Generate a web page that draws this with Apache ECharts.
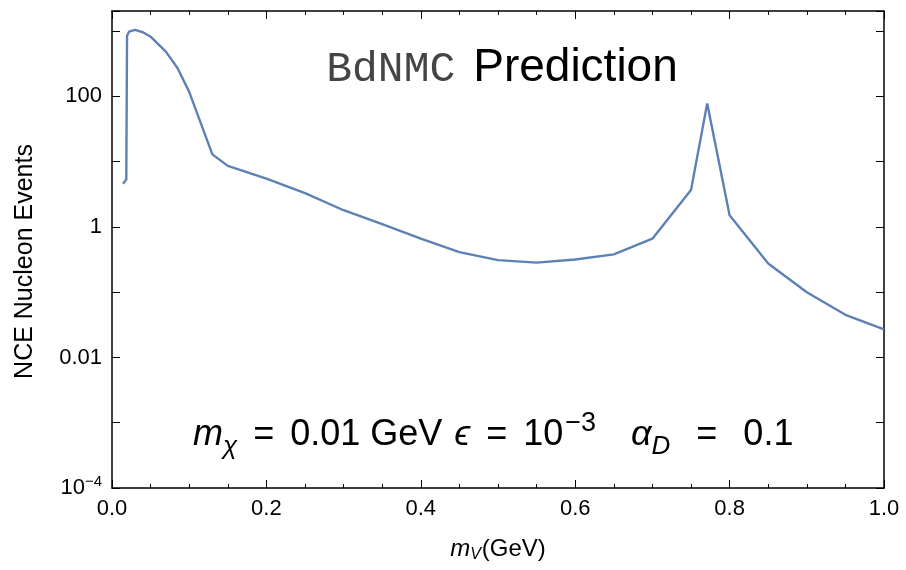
<!DOCTYPE html>
<html>
<head>
<meta charset="utf-8">
<script src="https://cdn.jsdelivr.net/npm/echarts@6/dist/echarts.min.js"></script>
<style>html,body{margin:0;padding:0;background:#fff}#c{width:906px;height:570px}</style>
</head>
<body>
<div id="c"></div>
<script>
const massGeV = [0.0143, 0.0185, 0.0195, 0.022, 0.03, 0.04, 0.05, 0.07, 0.085, 0.1, 0.13, 0.15, 0.2, 0.25, 0.3, 0.35, 0.4, 0.45, 0.5, 0.55, 0.6, 0.65, 0.7, 0.75, 0.771, 0.8, 0.85, 0.9, 0.95, 1.0];
const nceEvents = [4.6, 5.3, 850, 980, 1040, 960, 820, 480, 270, 117, 12.9, 8.6, 5.5, 3.3, 1.8, 1.1, 0.66, 0.41, 0.31, 0.284, 0.316, 0.38, 0.66, 3.66, 78, 1.51, 0.275, 0.1, 0.045, 0.027];
const xTickLabels = ['0.0', '0.2', '0.4', '0.6', '0.8', '1.0'];
const yTickLabels = {'2': '100', '0': '1', '-2': '0.01', '-4': '10{sup|−4}'};

const chart = echarts.init(document.getElementById('c'));
const sans = 'Liberation Sans, Arial, sans-serif';
const GRID = {left: 112, right: 22, top: 11, bottom: 82};
const gridW = 906 - GRID.left - GRID.right;
const gridH = 570 - GRID.top - GRID.bottom;
const blackLine = {show: true, onZero: false, lineStyle: {color: '#000', width: 1.5}};
const noLine = {show: false, onZero: false};
const tickStyle = {show: true, length: 8, lineStyle: {color: '#000', width: 1}};
const minorX = {show: true, splitNumber: 4, length: 4, lineStyle: {color: '#000', width: 1}};
const yMin = 1e-4, yMax = 2030;

const yLabelFmt = function (v) {
  const e = Math.log10(v);
  const r = Math.round(e);
  if (Math.abs(e - r) > 1e-6) return '';
  return yTickLabels[String(r)] || '';
};

const xBase = {type: 'value', min: 0, max: 1, interval: 0.2, splitLine: {show: false}};
const yBase = {type: 'log', logBase: 10, min: yMin, max: yMax, interval: 1, splitLine: {show: false}};

chart.setOption({
  animation: false,
  backgroundColor: '#fff',
  grid: Object.assign({containLabel: false}, GRID),
  xAxis: [
    Object.assign({}, xBase, {
      position: 'bottom', axisLine: blackLine, axisTick: {show: false},
      axisLabel: {fontFamily: sans, fontSize: 22, color: '#000', margin: 10,
        formatter: function (v) { return xTickLabels[Math.round(v / 0.2)]; }},
      name: '{i|m}{s|V}{n|(GeV)}', nameLocation: 'middle', nameGap: 47,
      nameTextStyle: {fontFamily: sans, fontSize: 24, color: '#000',
        rich: {i: {fontFamily: sans, fontSize: 24, fontStyle: 'italic', color: '#000'},
               s: {fontFamily: sans, fontSize: 16, fontStyle: 'italic', color: '#000', padding: [12, 1, 0, 0]},
               n: {fontFamily: sans, fontSize: 24, color: '#000'}}}
    }),
    Object.assign({}, xBase, {position: 'top', axisLine: blackLine, axisTick: {show: false}, axisLabel: {show: false}}),
    Object.assign({}, xBase, {position: 'top', offset: -gridH, axisLine: noLine, axisTick: tickStyle, minorTick: minorX, axisLabel: {show: false}}),
    Object.assign({}, xBase, {position: 'bottom', offset: -gridH, axisLine: noLine, axisTick: tickStyle, minorTick: minorX, axisLabel: {show: false}})
  ],
  yAxis: [
    Object.assign({}, yBase, {
      position: 'left', axisLine: blackLine, axisTick: {show: false},
      axisLabel: {fontFamily: sans, fontSize: 22, color: '#000', margin: 10, showMaxLabel: false,
        formatter: yLabelFmt,
        rich: {sup: {fontFamily: sans, fontSize: 15, color: '#000', verticalAlign: 'top', padding: [0, 0, 12, 0]}}},
      name: 'NCE Nucleon Events', nameLocation: 'middle', nameGap: 74, nameRotate: 90,
      nameTextStyle: {fontFamily: sans, fontSize: 25, color: '#000', padding: [0, 24, 0, 0]}
    }),
    Object.assign({}, yBase, {position: 'right', axisLine: blackLine, axisTick: {show: false}, axisLabel: {show: false}}),
    Object.assign({}, yBase, {position: 'right', offset: -gridW, axisLine: noLine, axisTick: tickStyle, axisLabel: {show: false}}),
    Object.assign({}, yBase, {position: 'left', offset: -gridW, axisLine: noLine, axisTick: tickStyle, axisLabel: {show: false}})
  ],
  series: [{
    type: 'line', xAxisIndex: 0, yAxisIndex: 0,
    data: massGeV.map((x, i) => [x, nceEvents[i]]),
    showSymbol: false, symbol: 'none',
    lineStyle: {color: '#5e81b5', width: 2.4},
    clip: true
  }],
  graphic: [{
    type: 'text', x: 502, y: 68,
    style: {
      text: '{a|BdNMC}{g| }{b|Prediction}',
      align: 'center', verticalAlign: 'middle',
      rich: {
        a: {fontFamily: 'Liberation Mono, Courier New, monospace', fontSize: 43, fill: '#444', verticalAlign: 'bottom'},
        g: {fontSize: 20, width: 18, verticalAlign: 'bottom'},
        b: {fontFamily: sans, fontSize: 46, fill: '#000', verticalAlign: 'bottom'}
      }
    }
  }, {
    type: 'text', x: 193, y: 435,
    style: {
      text: '{i|m}{sb|χ}{w16| }{n|=}{w16| }{n|0.01 GeV}{w12| }{i|ϵ}{w16| }{n|=}{w16| }{n|10}{sp|−3}{w35| }{i|α}{sb|D}{w26| }{n|=}{w26| }{n|0.1}',
      align: 'left', verticalAlign: 'middle',
      rich: {
        i: {fontFamily: sans, fontSize: 36, fontStyle: 'italic', fill: '#000', lineHeight: 50},
        n: {fontFamily: sans, fontSize: 36, fill: '#000', lineHeight: 50},
        sb: {fontFamily: sans, fontSize: 26, fontStyle: 'italic', fill: '#000', verticalAlign: 'bottom', lineHeight: 26, padding: [22, 0, 0, 0]},
        sp: {fontFamily: sans, fontSize: 27, fill: '#000', verticalAlign: 'top', lineHeight: 27, padding: [0, 0, 22, 2]},
        w12: {fontSize: 10, width: 12}, w16: {fontSize: 10, width: 16},
        w26: {fontSize: 10, width: 26}, w35: {fontSize: 10, width: 35}
      }
    }
  }]
});
</script>
</body>
</html>
